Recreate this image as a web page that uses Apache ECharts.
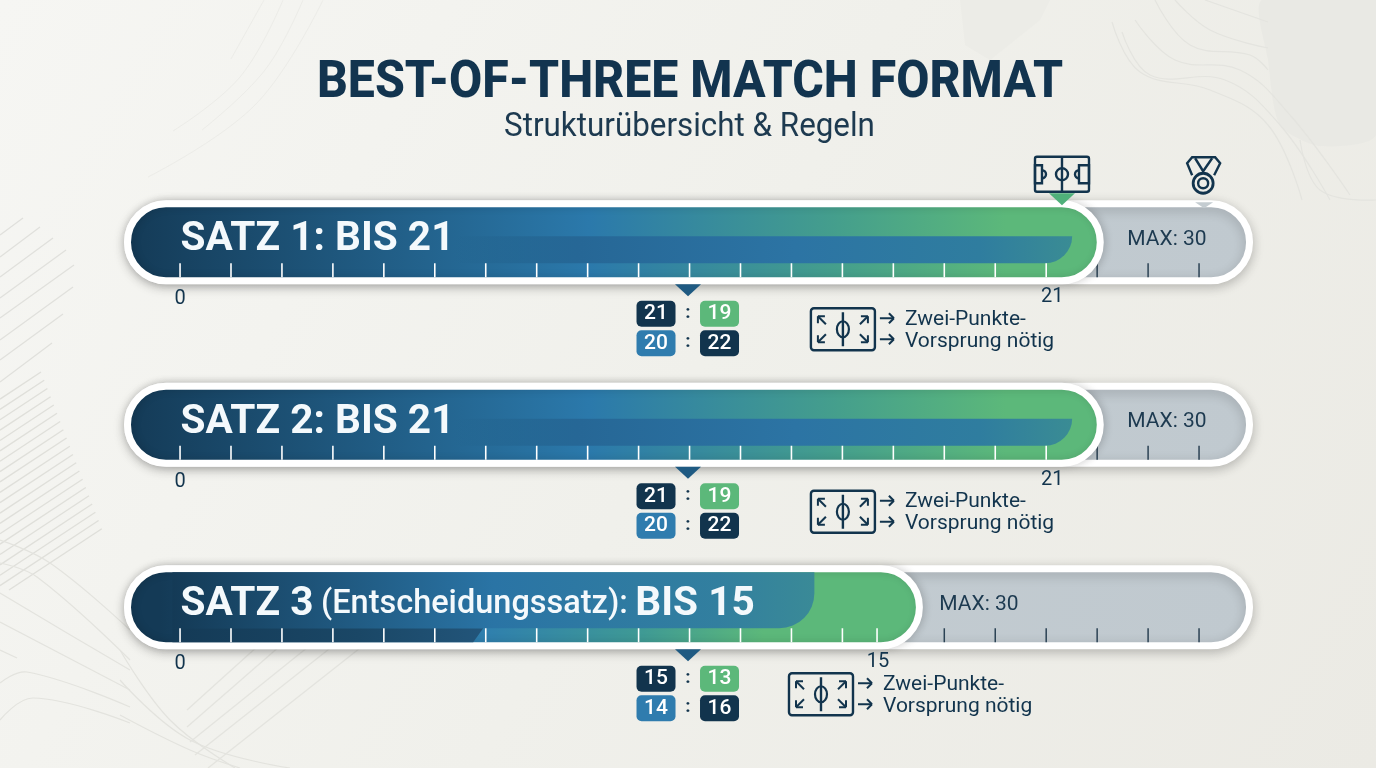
<!DOCTYPE html>
<html><head><meta charset="utf-8">
<style>html,body{margin:0;padding:0;background:#f1f1ec}#c{width:1376px;height:768px}</style>
<script src="https://cdn.jsdelivr.net/npm/echarts@6/dist/echarts.min.js"></script>
</head><body><div id="c"></div>
<script>
// ---- data ----
const categories = ['SATZ 1', 'SATZ 2', 'SATZ 3'];
const setTitles = ['{b|SATZ 1: BIS 21}', '{b|SATZ 2: BIS 21}', '{b|SATZ 3}{s| }{m|(Entscheidungssatz):}{s| }{b|BIS 15}'];
const trackEnd = [22.16, 22.16, 22.16];
const fillEnd = [19.23, 19.23, 15.68];
const bandEnd = [18.61, 18.61, 13.55];
const stripEnd = [0, 0, 7.05];
const zeroSlot = [1.1, 1.1, 1.1];
const targetSlot = [18.22, 18.22, 14.8];
const targetLabels = ['21', '21', '15'];
const maxSlot = [20.47, 20.47, 16.78];
const maxLabels = ['MAX: 30', 'MAX: 30', 'MAX: 30'];
const noteSlot = [14.11, 14.11, 13.68];
const scoreSlot = [11.07, 11.07, 11.07];
const scoreTop = [['21', '19'], ['21', '19'], ['15', '13']];
const scoreBottom = [['20', '22'], ['20', '22'], ['14', '16']];
const noteLines = ['Zwei-Punkte-', 'Vorsprung nötig'];
const whiteTicks = [
  [1.1,2.1,3.1,4.1,5.1,6.1,7.1,8.1,9.1,10.1,11.1,12.1,13.1,14.1,15.1,16.1,17.1,18.1],
  [1.1,2.1,3.1,4.1,5.1,6.1,7.1,8.1,9.1,10.1,11.1,12.1,13.1,14.1,15.1,16.1,17.1,18.1],
  [1.1,2.1,3.1,4.1,5.1,6.1,7.1,8.1,9.1,10.1,11.1,12.1,13.1,14.1,14.78]
];
const darkTicks = [[19.1,20.1,21.1],[19.1,20.1,21.1],[16.1,17.1,18.1,19.1,20.1,21.1]];
const pitchMarkerSlot = 18.41;
const medalMarkerSlot = 21.2;

// ---- helpers ----
const NAVY = '#12344d', GREEN = '#5cb87a', BLUE = '#2f7cae', DARK = '#143a56';
const FONT = 'Roboto';
const lg = (stops) => new echarts.graphic.LinearGradient(0, 0, 1, 0, stops.map(s => ({offset: s[0], color: s[1]})));
const line = (x1, y1, x2, y2, w) => ({type: 'line', shape: {x1, y1, x2, y2}, style: {stroke: NAVY, lineWidth: w || 2.4, fill: null}});
const rectS = (x, y, width, height, r) => ({type: 'rect', shape: {x, y, width, height, r: r || 0}, style: {stroke: NAVY, lineWidth: 2.4, fill: null}});
const arrowDiag = (x, y, dx, dy) => [line(x, y, x + dx * 8, y + dy * 8, 2), line(x, y, x + dx * 7, y, 2), line(x, y, x, y + dy * 7, 2)];
const arrowR = (x, y) => [line(x, y, x + 14, y, 2), line(x + 14, y, x + 9, y - 5, 2), line(x + 14, y, x + 9, y + 5, 2)];
const tri = (cx, top, w, h, fill) => ({type: 'polygon', shape: {points: [[cx - w / 2, top], [cx + w / 2, top], [cx, top + h]]}, style: {fill}});

// ---- background decoration ----
const bgStroke = '#e3e3de';
const curve = (pts, w, c) => ({type: 'polyline', z: -9, silent: true, shape: {points: pts, smooth: 0.4}, style: {stroke: c || bgStroke, lineWidth: w || 1.2, fill: null}});
const bg = [
  {type: 'rect', z: -10, silent: true, shape: {x: 0, y: 0, width: 1376, height: 768},
   style: {fill: new echarts.graphic.LinearGradient(0, 0, 1, 1, [{offset: 0, color: '#f6f6f3'}, {offset: .5, color: '#f0f0eb'}, {offset: 1, color: '#ebeae4'}])}},
  {type: 'polygon', z: -9, silent: true, shape: {points: [[960, 0], [1050, 0], [1040, 20], [990, 60], [965, 45]]}, style: {fill: '#ecece7'}},
  {type: 'polygon', z: -9, silent: true, shape: {smooth: 0.25, points: [[1262, 0], [1376, 0], [1376, 135], [1320, 146], [1280, 125], [1268, 60]]}, style: {fill: '#e9e9e4'}},
  curve([[231, 59], [264, 0]], 1, '#ecece8'), curve([[173, 131], [240, 77], [283, 0]], 1, '#ecece8'),
  curve([[202, 130], [265, 70], [303, 0]], 1, '#ecece8'), curve([[148, 177], [255, 105], [323, 0]], 1, '#ecece8')
];
[[[0,235],[23,218]],[[0,257],[40,227]],[[0,277],[53,238]],[[0,298],[66,250]],[[0,318],[74,265]],[[0,340],[73,287]],[[0,360],[63,314]],[[0,382],[52,343]]]
  .forEach(p => bg.push({type: 'polyline', z: -9, silent: true, shape: {points: p}, style: {stroke: '#e0e0dc', lineWidth: 1.3, fill: null}}));
for (let i = 0; i < 20; i++) {
  const ex = 41 + i * 3.2, ey = 372 + i * 8.25;
  let sx = 0, sy = ey + ex * 0.66;
  if (sy > 590) { sx = (sy - 590) / 0.66; sy = 590; }
  bg.push({type: 'line', z: -9, silent: true, shape: {x1: sx, y1: sy, x2: ex, y2: ey}, style: {stroke: '#dfdfda', lineWidth: 1.4}});
}
[
  [[0,540],[50,563],[130,630]], [[0,563],[37,577],[130,660]], [[0,593],[67,633],[130,670]],
  [[0,622],[130,690]], [[0,650],[17,658]], [[0,683],[27,672],[130,707]], [[0,720],[33,698],[130,723]],
  [[120,650],[170,720],[235,768]], [[120,680],[190,740],[290,768]], [[120,715],[190,750],[240,768]]
].forEach(p => bg.push(curve(p)));
[[[187,710],[320,590]],[[187,727],[350,585]],[[190,742],[385,585]],[[195,755],[410,585]],[[208,768],[440,585]]]
  .forEach(p => bg.push({type: 'polyline', z: -9, silent: true, shape: {points: p}, style: {stroke: '#e4e4df', lineWidth: 1.3, fill: null}}));
[
  [[1112,22],[1140,72],[1210,90],[1268,125],[1302,200]],
  [[1122,32],[1150,75],[1225,80],[1280,125],[1330,200]],
  [[1135,20],[1175,60],[1240,70],[1290,115],[1350,195]],
  [[1155,0],[1190,45],[1250,55],[1268,70]],
  [[1175,0],[1210,30],[1268,48]],
  [[1205,0],[1268,22]],
  [[1300,140],[1320,190],[1376,200]]
].forEach(p => bg.push(curve(p, 1.2, '#e4e4df')));
// heading
bg.push({type: 'text', z: 20, silent: true, x: 690, y: 84, scaleX: 0.945, originX: 0, originY: 0,
  style: {text: 'BEST-OF-THREE MATCH FORMAT', align: 'center', verticalAlign: 'middle', fill: '#12344f', font: '800 51px ' + FONT}});
bg.push({type: 'text', z: 20, silent: true, x: 689.5, y: 128, scaleX: 0.95, originX: 0, originY: 0,
  style: {text: 'Strukturübersicht & Regeln', align: 'center', verticalAlign: 'middle', fill: '#1d3a50', font: '400 33px ' + FONT}});

// ---- series ----
const gradMain = lg([[0, DARK], [.475, '#2b79ab'], [.73, '#459f8c'], [.9, GREEN], [1, GREEN]]);
const gradThird = lg([[0, DARK], [.045, DARK], [.45, '#2f7fae'], [.65, '#3f9a94'], [.8, GREEN], [1, GREEN]]);
const hidden = {color: 'transparent', opacity: 1};

const option = {
  animation: false,
  textStyle: {fontFamily: FONT},
  graphic: {elements: bg},
  grid: {left: 124, top: 151, width: 22.4 * 50.95, height: 547.5, containLabel: false},
  xAxis: {type: 'value', min: 0, max: 22.4, show: false},
  yAxis: {type: 'category', inverse: true, data: categories, show: false},
  series: [
    {name: 'Maximum', type: 'bar', barWidth: 84, barGap: '-100%', z: 2, silent: true,
     itemStyle: {color: lg([[0, '#c6ced3'], [1, '#c0c9cf']]), borderColor: '#fff', borderWidth: 7, borderRadius: 42,
       shadowBlur: 12, shadowColor: 'rgba(0,0,0,.2)', shadowOffsetY: 3},
     data: trackEnd},
    {name: 'Ticks grey', type: 'scatter', z: 3, silent: true, symbol: 'rect', symbolSize: [1.5, 14], symbolOffset: [0, 28],
     itemStyle: {color: '#2b4254', opacity: 1},
     data: darkTicks.flatMap((t, r) => t.map(v => [v, r]))},
    {name: 'Ziel', type: 'bar', barWidth: 84, barGap: '-100%', z: 4, silent: true,
     itemStyle: {borderColor: '#fff', borderWidth: 7, borderRadius: 42, shadowBlur: 8, shadowColor: 'rgba(0,0,0,.14)', shadowOffsetX: 2},
     data: fillEnd.map((v, i) => ({value: v, itemStyle: {color: i < 2 ? gradMain : gradThird}}))},
    {name: 'Band', type: 'custom', z: 5, silent: true, coordinateSystem: 'cartesian2d',
     data: categories.map((c, i) => [bandEnd[i], i, stripEnd[i]]),
     renderItem(params, api) {
       const r = api.value(1), c = api.coord([api.value(0), r]);
       const xs = api.coord([r < 2 ? 6.5 : 0.95, r])[0];
       const kids = [];
       if (r < 2) {
         kids.push({type: 'rect', shape: {x: xs, y: c[1] - 6, width: c[0] - xs, height: 27, r: [0, 0, 27, 0]},
           style: {fill: lg([[0, 'rgba(30,90,130,0)'], [.2, '#266796'], [.55, '#2c74a4'], [.85, '#2f7d9f'], [1, '#3a8c94']])}});
       } else {
         const sx = api.coord([api.value(2), r])[0];
         kids.push({type: 'polygon', shape: {points: [[xs, c[1] + 21], [sx, c[1] + 21], [sx - 10, c[1] + 35], [xs, c[1] + 35]]},
           style: {fill: lg([[0, DARK], [.6, '#1a4766'], [1, '#22557a']])}});
         kids.push({type: 'rect', shape: {x: xs, y: c[1] - 35, width: c[0] - xs, height: 56, r: [0, 0, 35, 0]},
           style: {fill: lg([[0, DARK], [.5, '#2a74a5'], [.85, '#327f9f'], [1, '#3a8a97']])}});
       }
       return {type: 'group', children: kids};
     }},
    {name: 'Ticks', type: 'scatter', z: 6, silent: true, symbol: 'rect', symbolSize: [1.6, 14], symbolOffset: [0, 28],
     itemStyle: {color: '#fff', opacity: 1},
     data: whiteTicks.flatMap((t, r) => t.map(v => [v, r]))},
    {name: 'Titel', type: 'scatter', z: 7, silent: true, symbolSize: 1, itemStyle: hidden,
     data: categories.map((c, i) => [1.1, i, setTitles[i]]),
     label: {show: true, position: 'right', distance: 0, offset: [0, -2], color: '#f4f9fc', opacity: 1,
       formatter: p => p.value[2],
       rich: {b: {fontFamily: FONT, fontWeight: 700, fontSize: 40.6, color: '#f4f9fc'},
              m: {fontFamily: FONT, fontWeight: 500, fontSize: 32.5, color: '#f4f9fc'},
              s: {fontFamily: FONT, fontSize: 30, color: '#f4f9fc'}}}},
    {name: 'MAX', type: 'scatter', z: 7, silent: true, symbolSize: 1, itemStyle: hidden,
     data: categories.map((c, i) => [maxSlot[i], i, maxLabels[i]]),
     label: {show: true, position: 'inside', offset: [0, -3], formatter: p => p.value[2], opacity: 1,
       fontFamily: FONT, fontSize: 21, color: '#1d3a50'}},
    {name: 'Null', type: 'scatter', z: 7, silent: true, symbolSize: 1, itemStyle: hidden,
     data: categories.map((c, i) => [zeroSlot[i], i, '0']),
     label: {show: true, position: 'inside', offset: [0, 57], opacity: 1, formatter: p => p.value[2], fontFamily: FONT, fontSize: 20, color: NAVY}},
    {name: 'Zielmarke', type: 'scatter', z: 7, silent: true, symbolSize: 1, itemStyle: hidden,
     data: categories.map((c, i) => [targetSlot[i], i, targetLabels[i]]),
     label: {show: true, position: 'inside', offset: [0, 55], opacity: 1, formatter: p => p.value[2], fontFamily: FONT, fontSize: 20, color: NAVY}},
    {name: 'Ergebnisse', type: 'custom', z: 8, silent: true, coordinateSystem: 'cartesian2d',
     data: categories.map((c, i) => [scoreSlot[i], i]),
     renderItem(params, api) {
       const r = api.value(1), c = api.coord([api.value(0), r]), kids = [];
       const cx = c[0], cy = c[1];
       kids.push(tri(cx, cy + 42, 26, 12, '#1f5a82'));
       const colors = [[NAVY, GREEN], [BLUE, NAVY]], rows = [scoreTop[r], scoreBottom[r]];
       rows.forEach((row, ri) => {
         const y = cy + 71.5 + ri * 29.5;
         row.forEach((t, ci) => {
           const x = cx + (ci ? 31.5 : -32);
           kids.push({type: 'rect', shape: {x: x - 19.5, y: y - 13, width: 39, height: 26, r: 5}, style: {fill: colors[ri][ci]}});
           kids.push({type: 'text', style: {text: t, x, y, align: 'center', verticalAlign: 'middle', fill: '#fff', font: '500 21px ' + FONT}});
         });
         kids.push({type: 'text', style: {text: ':', x: cx, y: y - 1, align: 'center', verticalAlign: 'middle', fill: NAVY, font: '700 19px ' + FONT}});
       });
       return {type: 'group', children: kids};
     }},
    {name: 'Hinweis', type: 'custom', z: 8, silent: true, coordinateSystem: 'cartesian2d',
     data: categories.map((c, i) => [noteSlot[i], i]),
     renderItem(params, api) {
       const c = api.coord([api.value(0), api.value(1)]);
       const x = c[0], y = c[1] + 87;
       const kids = [
         rectS(x - 32, y - 21, 64, 42, 3),
         line(x, y - 17, x, y + 17),
         {type: 'ellipse', shape: {cx: x, cy: y, rx: 6, ry: 8}, style: {stroke: NAVY, lineWidth: 2.2, fill: null}},
         ...arrowDiag(x - 25, y - 13, 1, 1), ...arrowDiag(x + 25, y - 13, -1, 1),
         ...arrowDiag(x - 25, y + 13, 1, -1), ...arrowDiag(x + 25, y + 13, -1, -1),
         ...arrowR(x + 37, y - 11), ...arrowR(x + 37, y + 10),
         {type: 'text', style: {text: noteLines[0], x: x + 62, y: y - 10, verticalAlign: 'middle', fill: NAVY, font: '400 21px ' + FONT}},
         {type: 'text', style: {text: noteLines[1], x: x + 62, y: y + 12, verticalAlign: 'middle', fill: NAVY, font: '400 21px ' + FONT}}
       ];
       return {type: 'group', children: kids};
     }},
    {name: 'Symbole', type: 'custom', z: 9, silent: true, coordinateSystem: 'cartesian2d',
     data: [[pitchMarkerSlot, 0, medalMarkerSlot]],
     renderItem(params, api) {
       const p = api.coord([api.value(0), 0]), m = api.coord([api.value(2), 0]);
       const x = p[0], y = p[1] - 68, mx = m[0], my = m[1];
       const S = {stroke: NAVY, lineWidth: 2.4, fill: null};
       return {type: 'group', children: [
         tri(x, my - 49, 26, 12, '#4fb07a'),
         tri(mx, my - 40, 18, 6, '#c4ccd1'),
         rectS(x - 27, y - 17.5, 54, 35, 2),
         line(x, y - 17, x, y + 17),
         {type: 'circle', shape: {cx: x, cy: y, r: 6}, style: S},
         {type: 'rect', shape: {x: x - 27, y: y - 9, width: 7, height: 18}, style: S},
         {type: 'rect', shape: {x: x + 17, y: y - 9, width: 10, height: 18}, style: S},
         {type: 'arc', shape: {cx: x - 20, cy: y, r: 4, startAngle: -Math.PI / 2, endAngle: Math.PI / 2}, style: S},
         {type: 'arc', shape: {cx: x + 17, cy: y, r: 4, startAngle: Math.PI / 2, endAngle: -Math.PI / 2}, style: S},
         {type: 'circle', shape: {cx: mx - 1, cy: my - 59, r: 10}, style: {stroke: NAVY, lineWidth: 2.8, fill: null}},
         {type: 'circle', shape: {cx: mx - 1, cy: my - 59, r: 5}, style: S},
         {type: 'polyline', shape: {points: [[mx - 12, my - 67], [mx - 17, my - 79], [mx - 12, my - 85], [mx + 11, my - 85], [mx + 16, my - 79], [mx + 10, my - 67]]}, style: S},
         {type: 'polyline', shape: {points: [[mx - 9, my - 84], [mx - 1, my - 71], [mx + 8, my - 84]]}, style: S}
       ]};
     }}
  ]
};
const chart = echarts.init(document.getElementById('c'), null, {renderer: 'canvas', width: 1376, height: 768});
chart.setOption(option);
</script></body></html>
